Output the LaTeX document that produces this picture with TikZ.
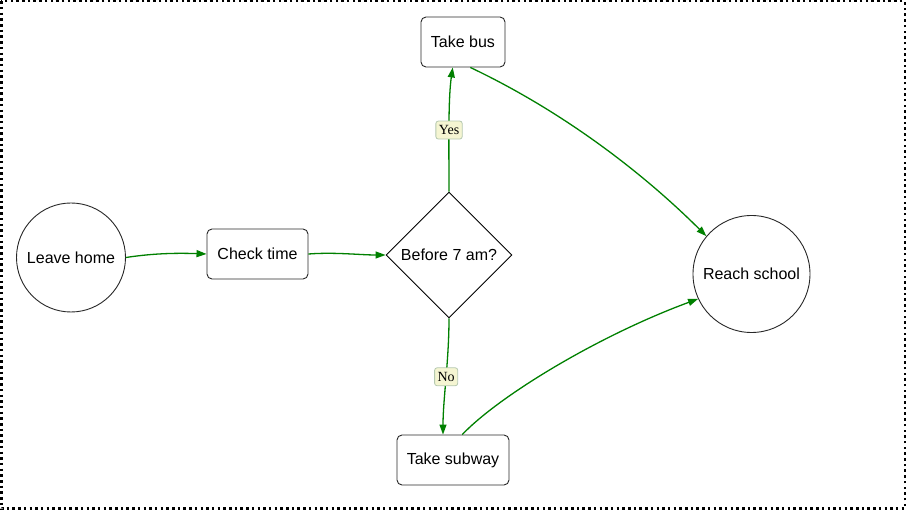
\documentclass[tikz,border=0pt]{standalone}
\usepackage{fontspec}
\setmainfont{Liberation Sans}
\newfontfamily\lblfont{Liberation Serif}
\usetikzlibrary{shapes.geometric,arrows.meta}
\definecolor{edgegreen}{RGB}{0,128,0}
\definecolor{lblfill}{RGB}{245,245,210}
\definecolor{lbldraw}{RGB}{180,200,175}
\definecolor{nodedraw}{RGB}{40,40,40}
\tikzset{
  procbox/.style={draw=nodedraw, line width=0.9pt, rounded corners=5pt, fill=white, inner sep=0pt,
    font=\fontsize{16}{19}\selectfont},
  termcirc/.style={draw=nodedraw, line width=0.9pt, circle, fill=white, inner sep=0pt,
    font=\fontsize{16}{19}\selectfont},
  decision/.style={draw=black, line width=0.9pt, diamond, aspect=1, minimum size=126pt, inner sep=0pt, fill=white,
    font=\fontsize{16}{19}\selectfont},
  flow/.style={draw=edgegreen, line width=1.3pt, -{Triangle[length=10pt,width=7pt]}},
  edgelbl/.style={fill=lblfill, draw=lbldraw, line width=0.8pt, rounded corners=2.5pt, inner xsep=3pt, inner ysep=0pt,
    minimum height=18pt, font=\lblfont\fontsize{14}{16}\selectfont}
}
\begin{document}
\begin{tikzpicture}[x=1pt,y=-1pt]
\useasboundingbox (0,0) rectangle (906,510);
\draw[line width=2.5pt, dash pattern=on 2.5pt off 3.2pt] (1.25,1.25) rectangle (904.75,508.75);

\node[termcirc, minimum size=109pt] (home) at (71,257.5) {Leave home};
\node[procbox, minimum width=101pt, minimum height=50pt] (check) at (257.5,254) {Check time};
\node[decision] (dec) at (449,255) {Before 7 am?};
\node[procbox, minimum width=84pt, minimum height=50pt] (bus) at (463,42) {Take bus};
\node[procbox, minimum width=112pt, minimum height=50pt] (subway) at (453,460) {Take subway};
\node[termcirc, minimum size=117pt] (school) at (751.5,274) {Reach school};

\draw[flow] (home.east) .. controls (155,253) and (180,253) .. (check.west);
\draw[flow] (check.east) .. controls (335,252) and (360,255) .. (dec.west);
\draw[flow] (dec.north) .. controls (449,150) and (448,100) .. (bus.-112)
  node[edgelbl, pos=0.47] (yes) {Yes};
\draw[flow] (dec.south) .. controls (449,360) and (443,400) .. (subway.north -| 443,0)
  node[edgelbl, pos=0.48] (no) {No};
\draw[flow] (bus.-74) .. controls (560,110) and (640,170) .. (school.140);
\draw[flow] (subway.70) .. controls (500,395) and (600,335) .. (school.205);
\end{tikzpicture}
\end{document}
